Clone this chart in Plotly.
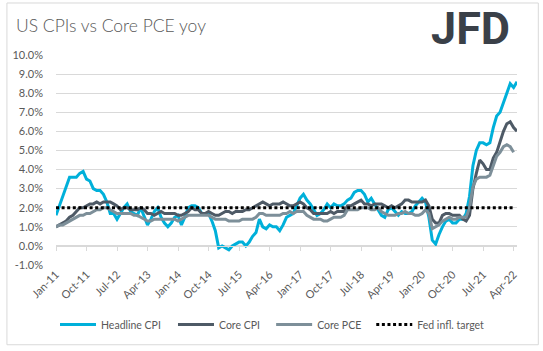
import plotly.graph_objects as go

# Monthly data, Jan-11 .. May-22
headline_cpi = [
    1.6, 2.1, 2.7, 3.2, 3.6, 3.6, 3.6, 3.8, 3.9, 3.5, 3.4, 3.0,
    2.9, 2.9, 2.7, 2.3, 1.7, 1.7, 1.4, 1.7, 2.0, 2.2, 1.8, 1.7,
    1.6, 2.0, 1.5, 1.1, 1.4, 1.8, 2.0, 1.5, 1.2, 1.0, 1.2, 1.5,
    1.6, 1.1, 1.5, 2.0, 2.1, 2.1, 2.0, 1.7, 1.7, 1.7, 1.3, 0.8,
    -0.1, 0.0, -0.1, -0.2, 0.0, 0.1, 0.2, 0.2, 0.0, 0.2, 0.5, 0.7,
    1.4, 1.0, 0.9, 1.1, 1.0, 1.0, 0.8, 1.1, 1.5, 1.6, 1.7, 2.1,
    2.5, 2.7, 2.4, 2.2, 1.9, 1.6, 1.7, 1.9, 2.2, 2.0, 2.2, 2.1,
    2.1, 2.2, 2.4, 2.5, 2.8, 2.9, 2.9, 2.7, 2.3, 2.5, 2.2, 1.9,
    1.6, 1.5, 1.9, 2.0, 1.8, 1.6, 1.8, 1.7, 1.7, 1.8, 2.1, 2.3,
    2.5, 2.3, 1.5, 0.3, 0.1, 0.6, 1.0, 1.3, 1.4, 1.2, 1.2, 1.4,
    1.4, 1.7, 2.6, 4.2, 5.0, 5.4, 5.4, 5.3, 5.4, 6.2, 6.8, 7.0,
    7.5, 7.9, 8.5, 8.3, 8.6,
]
core_cpi = [
    1.0, 1.1, 1.2, 1.3, 1.5, 1.6, 1.8, 2.0, 2.0, 2.1, 2.2, 2.2,
    2.3, 2.2, 2.3, 2.3, 2.3, 2.2, 2.1, 1.9, 2.0, 2.0, 1.9, 1.9,
    1.9, 2.0, 1.9, 1.7, 1.7, 1.6, 1.7, 1.8, 1.7, 1.7, 1.7, 1.7,
    1.6, 1.6, 1.7, 1.8, 2.0, 1.9, 1.9, 1.7, 1.7, 1.8, 1.7, 1.6,
    1.6, 1.7, 1.8, 1.8, 1.7, 1.8, 1.8, 1.8, 1.9, 1.9, 2.0, 2.1,
    2.2, 2.3, 2.2, 2.1, 2.2, 2.2, 2.2, 2.3, 2.2, 2.1, 2.1, 2.2,
    2.3, 2.2, 2.0, 1.9, 1.7, 1.7, 1.7, 1.7, 1.7, 1.8, 1.7, 1.8,
    1.8, 1.8, 2.1, 2.1, 2.2, 2.3, 2.4, 2.2, 2.2, 2.1, 2.2, 2.2,
    2.2, 2.1, 2.0, 2.1, 2.0, 2.1, 2.2, 2.4, 2.4, 2.3, 2.3, 2.3,
    2.3, 2.4, 2.1, 1.4, 1.2, 1.2, 1.6, 1.7, 1.7, 1.6, 1.6, 1.6,
    1.4, 1.3, 1.6, 3.0, 3.8, 4.5, 4.3, 4.0, 4.0, 4.6, 4.9, 5.5,
    6.0, 6.4, 6.5, 6.2, 6.0,
]
# Jan-11 .. Apr-22
core_pce = [
    1.0, 1.1, 1.1, 1.2, 1.3, 1.4, 1.5, 1.6, 1.6, 1.7, 1.7, 1.8,
    1.9, 1.9, 2.0, 2.0, 1.9, 1.8, 1.7, 1.7, 1.7, 1.7, 1.7, 1.6,
    1.6, 1.5, 1.4, 1.3, 1.3, 1.4, 1.4, 1.4, 1.4, 1.4, 1.4, 1.4,
    1.3, 1.4, 1.5, 1.6, 1.6, 1.6, 1.6, 1.6, 1.6, 1.6, 1.5, 1.4,
    1.4, 1.4, 1.4, 1.3, 1.3, 1.3, 1.3, 1.4, 1.4, 1.4, 1.4, 1.5,
    1.7, 1.7, 1.6, 1.6, 1.6, 1.6, 1.6, 1.7, 1.7, 1.8, 1.7, 1.8,
    1.8, 1.8, 1.6, 1.5, 1.4, 1.4, 1.4, 1.3, 1.3, 1.4, 1.5, 1.5,
    1.5, 1.6, 1.9, 1.9, 1.9, 1.9, 2.0, 2.0, 2.0, 1.9, 1.9, 2.0,
    1.8, 1.7, 1.6, 1.6, 1.6, 1.7, 1.7, 1.8, 1.7, 1.7, 1.6, 1.6,
    1.7, 1.9, 1.7, 0.9, 1.0, 1.1, 1.3, 1.4, 1.5, 1.4, 1.4, 1.5,
    1.5, 1.5, 2.0, 3.1, 3.5, 3.6, 3.6, 3.6, 3.7, 4.2, 4.7, 4.9,
    5.2, 5.3, 5.2, 4.9,
]
fed_target = [2.0] * 136

tick_labels = ["Jan-11", "Oct-11", "Jul-12", "Apr-13", "Jan-14", "Oct-14", "Jul-15", "Apr-16",
               "Jan-17", "Oct-17", "Jul-18", "Apr-19", "Jan-20", "Oct-20", "Jul-21", "Apr-22"]
y_ticks = [-1, 0, 1, 2, 3, 4, 5, 6, 7, 8, 9, 10]

months_cpi = list(range(len(headline_cpi)))
months_pce = list(range(len(core_pce)))
tick_pos = [i * 9 for i in range(len(tick_labels))]

FONT = "Lato"
GREY = "#595959"

fig = go.Figure()
fig.add_trace(go.Scatter(x=months_cpi, y=headline_cpi, name="Headline CPI", mode="lines",
                         legend="legend",
                         line=dict(color="#00B0DA", width=3)))
fig.add_trace(go.Scatter(x=months_cpi, y=core_cpi, name="Core CPI", mode="lines",
                         legend="legend2",
                         line=dict(color="#4E5A66", width=3)))
fig.add_trace(go.Scatter(x=months_pce, y=core_pce, name="Core PCE", mode="lines",
                         legend="legend3",
                         line=dict(color="#7D8F99", width=3)))
fig.add_trace(go.Scatter(x=months_pce, y=fed_target, name="Fed infl. target", mode="lines",
                         xaxis="x2", legend="legend4",
                         line=dict(color="#000000", width=3, dash="3px,2.6px")))

L, R, T, B = 52, 26, 55, 84
W, H = 543, 351
pw, ph = W - L - R, H - T - B

def px_x(p):
    return (p - L) / pw

def px_y(p):
    return (H - B - p) / ph

def legend_at(px):
    return dict(orientation="h", x=px_x(px - 7), xanchor="left", y=px_y(327), yanchor="middle",
                font=dict(family=FONT, size=10.5, color=GREY), bgcolor="rgba(0,0,0,0)",
                itemwidth=36)

fig.update_layout(
    width=W, height=H,
    margin=dict(l=L, r=R, t=T, b=B),
    paper_bgcolor="white", plot_bgcolor="white",
    font=dict(family=FONT, color=GREY, size=11),
    title=dict(text="US CPIs vs Core PCE yoy", x=16 / W, xanchor="left", xref="container",
               y=1 - 26 / H, yanchor="middle", yref="container",
               font=dict(family=FONT, size=17.5, color=GREY, weight=300)),
    xaxis=dict(range=[0, 136], tickvals=tick_pos, ticktext=tick_labels, tickangle=-45,
               showgrid=False, zeroline=False, showline=False, ticks="",
               tickfont=dict(family=FONT, size=11, color=GREY)),
    xaxis2=dict(range=[0, 136], matches="x", overlaying="x", anchor="free", position=1 / 11,
                tickvals=tick_pos, showticklabels=False, showline=True, linecolor="#D9D9D9",
                linewidth=1, ticks="outside", ticklen=4, tickcolor="#D9D9D9", showgrid=False,
                zeroline=False),
    yaxis=dict(range=[-1, 10], tickvals=y_ticks, ticktext=[f"{v:.1f}%" for v in y_ticks],
               showgrid=True, gridcolor="#D9D9D9", gridwidth=1, zeroline=False,
               showline=False, ticks="", ticklabelstandoff=12,
               tickfont=dict(family=FONT, size=11, color=GREY)),
    legend=legend_at(58),
    legend2=legend_at(177),
    legend3=legend_at(276),
    legend4=legend_at(377),
    showlegend=True,
    shapes=[dict(type="rect", xref="paper", yref="paper",
                 x0=px_x(2.5), x1=px_x(538.5), y0=px_y(347.5), y1=px_y(2.5),
                 line=dict(color="#D9D9D9", width=1), fillcolor="rgba(0,0,0,0)", layer="below")],
    annotations=[dict(text="<b>JFD</b>", xref="paper", yref="paper", x=px_x(470), y=px_y(28),
                      xanchor="center", yanchor="middle", showarrow=False,
                      font=dict(family="Roboto", size=45, color="#3A4048"))],
)

fig.write_html("out.html")
